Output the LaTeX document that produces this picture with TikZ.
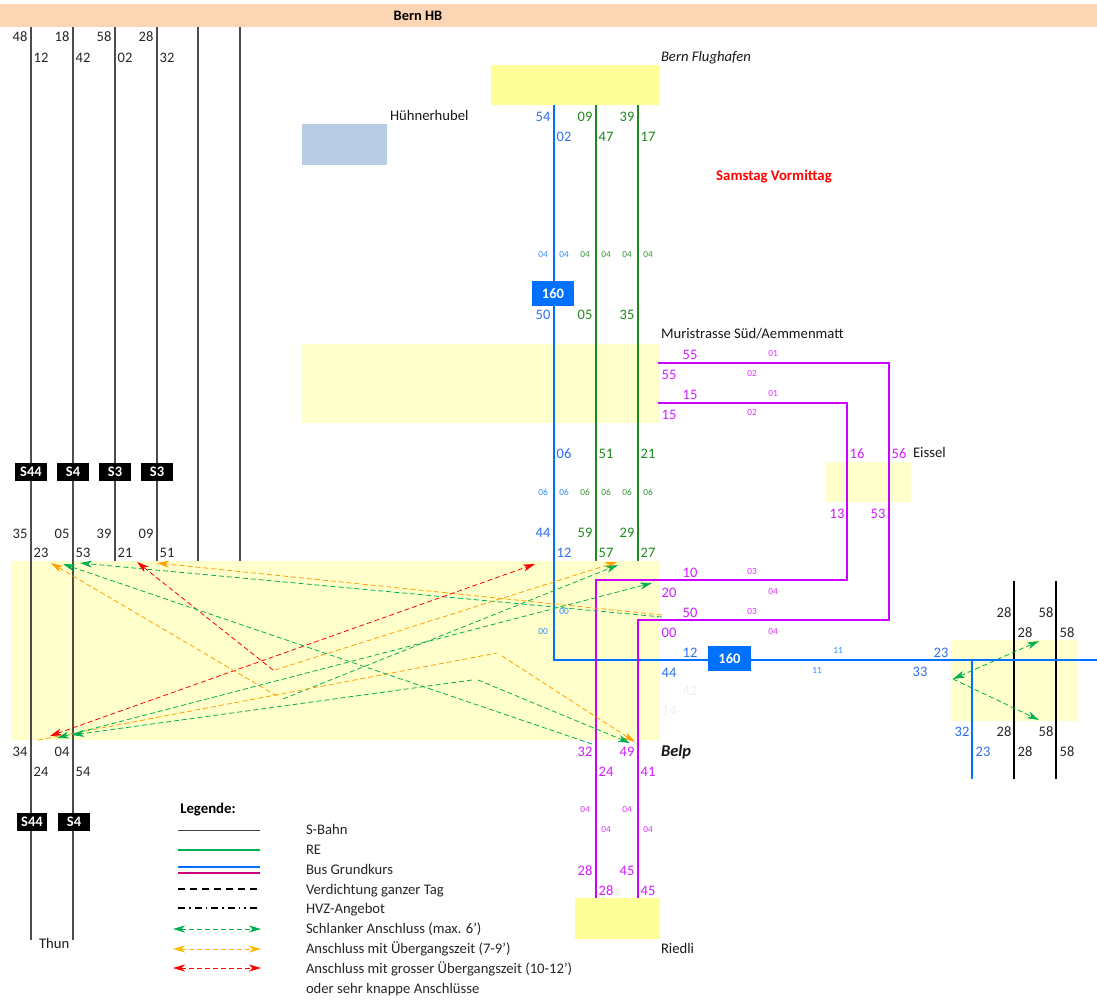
\documentclass[tikz,border=0pt]{standalone}
\usepackage{fontspec}
\setmainfont{Carlito}
\usetikzlibrary{arrows.meta}
\definecolor{cblue}{HTML}{0070FF}
\definecolor{cbluet}{HTML}{2F6FEF}
\definecolor{cgreen}{HTML}{1E8A1E}
\definecolor{cmag}{HTML}{CC00FF}
\definecolor{cmagt}{HTML}{D41CFF}
\definecolor{zone}{HTML}{FFFFCC}
\definecolor{zonestrong}{HTML}{FFFF99}
\definecolor{anschg}{HTML}{00B050}
\definecolor{anscho}{HTML}{FFA000}
\definecolor{anschr}{HTML}{FF0000}
\definecolor{headerfill}{HTML}{FCD5B4}
\definecolor{huhnfill}{HTML}{B8CCE4}
\definecolor{legmag}{HTML}{CC0078}
\definecolor{legor}{HTML}{FFB900}
\newcounter{labn}
\newcommand{\labs}[2]{\foreach \px/\py/\ptxt in {#2}{\stepcounter{labn}\node[#1,name=n\arabic{labn}] at (\px,\py+0.7) {\ptxt};}}
\tikzset{
  every node/.style={inner sep=0pt,outer sep=0pt},
  tm/.style={font=\fontsize{14.5}{15}\selectfont,text=black!85},
  tmb/.style={tm,text=cbluet},
  tmg/.style={tm,text=cgreen},
  tmm/.style={tm,text=cmagt},
  sm/.style={font=\fontsize{9.3}{10}\selectfont},
  smb/.style={sm,text=cblue!80},
  smg/.style={sm,text=cgreen!90},
  smm/.style={sm,text=cmagt!90},
  station/.style={font=\fontsize{14.67}{16}\selectfont,anchor=base west,text=black!90},
  legtext/.style={font=\fontsize{14.67}{16}\selectfont,anchor=base west,text=black!85},
  zonebox/.style={fill=zone,draw=none},
  strongbox/.style={fill=zonestrong,draw=none},
  badgeb/.style={fill=cblue,text=white,font=\fontsize{14.5}{15}\bfseries\selectfont,minimum height=25,align=center},
  badgek/.style={fill=black,text=white,font=\fontsize{14.5}{15}\bfseries\selectfont,minimum height=18,minimum width=32},
  train/.style={draw=black!70,line width=1.1},
  trainb/.style={draw=black,line width=1.4},
  bus/.style={draw=cblue,line width=1.6,line join=miter},
  re/.style={draw=cgreen,line width=1.6},
  mag/.style={draw=cmag,line width=1.7,line join=miter},
  conn/.style={line width=0.8,dash pattern=on 5 off 3},
  cg/.style={conn,draw=anschg},
  co/.style={conn,draw=anscho},
  cr/.style={conn,draw=anschr},
  tip/.style={-{Stealth[length=12,width=7,inset=3.5]}},
  tipt/.style={{Stealth[length=12,width=7,inset=3.5]}-{Stealth[length=12,width=7,inset=3.5]}},
}
\begin{document}
\begin{tikzpicture}[x=1pt,y=-1pt]
\useasboundingbox (0,0) rectangle (1097,999);
\path[fill=white] (0,0) rectangle (1097,999);
% zones
\node[fill=headerfill,minimum width=1097,minimum height=23,anchor=north west,name=hb] at (0,4) {};
\node[font=\fontsize{14.4}{15}\bfseries\selectfont,name=hbt] at (418,16) {Bern HB};
\node[strongbox,minimum width=169,minimum height=40,anchor=north west,name=flug] at (491,65) {};
\node[fill=huhnfill,minimum width=85,minimum height=41,anchor=north west,name=huhn] at (302,124) {};
\node[zonebox,minimum width=358,minimum height=79,anchor=north west,name=muri] at (302,344) {};
\node[zonebox,minimum width=85,minimum height=40,anchor=north west,name=eiss] at (826,462) {};
\node[zonebox,minimum width=649,minimum height=179,anchor=north west,name=belp] at (11,561) {};
\node[zonebox,minimum width=127,minimum height=81,anchor=north west,name=ost] at (951,640) {};
\node[strongbox,minimum width=85,minimum height=41,anchor=north west,name=ried] at (575,898) {};
% named track ends
\coordinate (s1t) at (31,27); \coordinate (s1b) at (31,940);
\coordinate (s2t) at (73,27); \coordinate (s2b) at (73,940);
\coordinate (s3t) at (115,27); \coordinate (s3b) at (115,561);
\coordinate (s4t) at (157,27); \coordinate (s4b) at (157,561);
\coordinate (s5t) at (198,27); \coordinate (s5b) at (198,561);
\coordinate (s6t) at (240,27); \coordinate (s6b) at (240,561);
\coordinate (r1t) at (1014,581); \coordinate (r1b) at (1014,779);
\coordinate (r2t) at (1056,581); \coordinate (r2b) at (1056,779);
\foreach \a/\b in {s1t/s1b,s2t/s2b,s3t/s3b,s4t/s4b,s5t/s5b,s6t/s6b}{\draw[train] (\a)--(\b);}
\foreach \a/\b in {r1t/r1b,r2t/r2b}{\draw[trainb] (\a)--(\b);}
% buses
\coordinate (bt) at (554,105); \coordinate (bc) at (554,660); \coordinate (be) at (1097,660);
\coordinate (bbt) at (972,660); \coordinate (bbb) at (972,779);
\coordinate (g1t) at (596,105); \coordinate (g1b) at (596,561);
\coordinate (g2t) at (638,105); \coordinate (g2b) at (638,561);
\draw[bus] (bt)--(bc)--(be);
\draw[bus] (bbt)--(bbb);
\draw[re] (g1t)--(g1b);
\draw[re] (g2t)--(g2b);
\coordinate (m1a) at (658,363); \coordinate (m1b) at (889,363); \coordinate (m1c) at (889,620); \coordinate (m1d) at (638,620); \coordinate (m1e) at (638,898);
\coordinate (m2a) at (658,403); \coordinate (m2b) at (847,403); \coordinate (m2c) at (847,580); \coordinate (m2d) at (596,580); \coordinate (m2e) at (596,898);
\draw[mag] (m1a)--(m1b)--(m1c)--(m1d)--(m1e);
\draw[mag] (m2a)--(m2b)--(m2c)--(m2d)--(m2e);
% connections
\foreach \n/\x/\y in {a1/157/563,a2/662/615,a3/80/563,a4/662/617,a5/137/562,a6/273/670,a7/617/562,a8/275/670,a9/535/564,a10/50/736,
 a11/51/563,a12/277/696,a13/618/565,a14/283/699,a15/38/740,a16/497/653,a17/502/656,a18/635/742,a19/57/738,a20/652/583,
 a21/72/735,a22/472/680,a23/478/680,a24/630/743,a25/63/564,a26/592/744,a27/953/679,a28/1039/641,a29/1039/720}{\coordinate (\n) at (\x,\y);}
\draw[co,tip] (a2)--(a1);
\draw[cg,tip] (a4)--(a3);
\draw[cr,tip] (a6)--(a5);
\draw[co,tip] (a8)--(a7);
\draw[cr,tipt] (a10)--(a9);
\draw[co,tip] (a12)--(a11);
\draw[cg,tip] (a14)--(a13);
\draw[co] (a15)--(a16);
\draw[co,tip] (a17)--(a18);
\draw[cg,tipt] (a19)--(a20);
\draw[cg,tip] (a22)--(a21);
\draw[cg,tip] (a23)--(a24);
\draw[cg,tip] (a26)--(a25);
\draw[cg,tipt] (a27)--(a28);
\draw[cg,tip] (a27)--(a29);
% badges
\node[badgeb,minimum width=42,name=b160a] at (553,293.5) {160};
\node[badgeb,minimum width=43,name=b160b] at (729.5,658.5) {160};
\node[badgek,name=k1] at (31,472) {S44};
\node[badgek,name=k2] at (73,472) {S4};
\node[badgek,name=k3] at (115,472) {S3};
\node[badgek,name=k4] at (157,472) {S3};
\node[badgek,minimum width=30,name=k5] at (32,822) {S44};
\node[badgek,name=k6] at (74,822) {S4};
% black times
\labs{tm}{20/36/48,41/57/12,62/36/18,83/57/42,104/36/58,125/57/02,146/36/28,167/57/32,
 20/533/35,62/533/05,104/533/39,146/533/09,41/552/23,83/552/53,125/552/21,167/552/51,
 20/751/34,62/751/04,41/771/24,83/771/54,
 1004/612/28,1046/612/58,1025/632/28,1067/632/58,1004/731/28,1046/731/58,1025/751/28,1067/751/58}
% blue
\labs{tmb}{543/116/54,564/136/02,543/314/50,564/453/06,543/532/44,564/552/12,690/652/12,669/672/44,941/652/23,920/671/33,962/731/32,983/751/23}
\labs{smb}{543/254/04,564/254/04,543/492/06,564/492/06,564/611/00,543/631/00,838/650/11,817/670/11}
\node[tm,text=black!6,name=ghost1] at (690,691) {42};
\node[tm,text=black!6,name=ghost2] at (669,711) {14};
% green
\labs{tmg}{585/116/09,606/136/47,627/116/39,648/136/17,585/314/05,627/314/35,606/453/51,648/453/21,585/532/59,627/532/29,606/552/57,648/552/27}
\labs{smg}{585/254/04,606/254/04,627/254/04,648/254/04,585/492/06,606/492/06,627/492/06,648/492/06}
% magenta
\labs{tmm}{690/354/55,669/374/55,690/394/15,669/414/15,857/453/16,899/453/56,837/513/13,878/513/53,690/572/10,669/592/20,690/612/50,669/632/00,
 585/751/32,627/751/49,606/771/24,648/771/41,585/870/28,627/870/45,606/890/28,648/890/45}
\labs{smm}{773/353/01,752/373/02,773/393/01,752/412/02,752/571/03,773/591/04,752/611/03,773/631/04,585/809/04,627/809/04,606/829/04,648/829/04}
% stations
\node[station,font=\fontsize{14.67}{16}\itshape\selectfont,name=st1] at (661,61) {Bern Flughafen};
\node[station,name=st2] at (390,120) {Hühnerhubel};
\node[station,name=st3] at (661,338) {Muristrasse Süd/Aemmenmatt};
\node[station,name=st4] at (913,457) {Eissel};
\node[station,font=\fontsize{16.5}{18}\bfseries\itshape\selectfont,name=st5] at (661,756) {Belp};
\node[station,name=st6] at (661,953) {Riedli};
\node[station,name=st7] at (39,948) {Thun};
\node[font=\fontsize{14.8}{16}\bfseries\selectfont,text=red,name=title] at (774,177) {Samstag Vormittag};
% legend
\node[font=\fontsize{14.8}{16}\bfseries\selectfont,name=legt] at (208,810) {Legende:};
\foreach \n/\y in {l1/830,l2/850,l3/867,l4/873,l5/889,l6/908}{\coordinate (\n a) at (178,\y); \coordinate (\n b) at (260,\y);}
\foreach \n/\y in {l7/929,l8/949,l9/968}{\coordinate (\n a) at (173,\y); \coordinate (\n b) at (261,\y);}
\draw[black!75,line width=0.9] (l1a)--(l1b);
\draw[anschg,line width=2.6] (l2a)--(l2b);
\draw[cblue,line width=1.4] (l3a)--(l3b);
\draw[legmag,line width=1.4] (l4a)--(l4b);
\draw[black,line width=1.4,dash pattern=on 7 off 5] (l5a)--(l5b);
\draw[black,line width=1.4,dash pattern=on 7 off 4 on 1.5 off 4 on 7 off 4 on 1.5 off 4 on 7 off 4 on 1.5 off 4 on 7 off 4 on 1.5 off 4 on 1.5 off 4] (l6a)--(l6b);
\draw[cg,tipt] (l7a)--(l7b);
\draw[co,tipt,draw=legor] (l8a)--(l8b);
\draw[cr,tipt] (l9a)--(l9b);
\foreach \y/\t in {834.5/S-Bahn / Regio,854.5/RE,874.5/Bus Grundkurs,894.5/Verdichtung ganzer Tag,913.5/HVZ-Angebot,933.5/Schlanker Anschluss (max. 6'),953.5/Anschluss mit Übergangszeit (7-9'),973.5/Anschluss mit grosser Übergangszeit (10-12'),993.5/oder sehr knappe Anschlüsse}{\node[legtext,name=leg\y] at (306,\y) {\t};}
\end{tikzpicture}
\end{document}
